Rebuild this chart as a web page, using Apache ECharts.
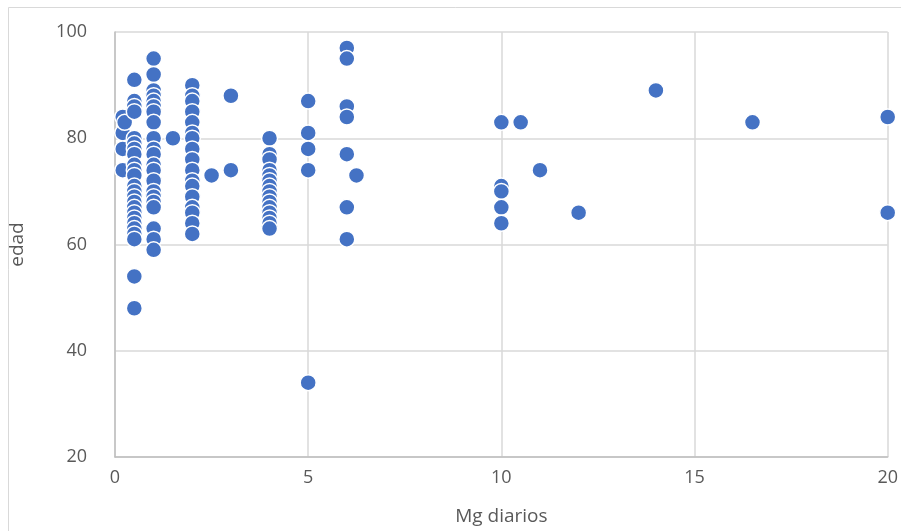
<!DOCTYPE html>
<html>
<head>
<meta charset="utf-8">
<script src="https://cdn.jsdelivr.net/npm/echarts@6/dist/echarts.min.js"></script>
<style>
html,body{margin:0;padding:0;background:#fff;}
#c{width:901px;height:531px;}
</style>
</head>
<body>
<div id="c"></div>
<script>
// Mg diarios (x) and edad (y), grouped by dose
const dose02 = [84, 81, 78, 74];
const dose025 = [83];
const dose05 = [91, 87, 86, 85, 80, 79, 78, 77, 75, 74, 73, 71, 70, 69, 68, 67, 66, 65, 64, 63, 62, 61, 54, 48];
const dose1 = [95, 92, 89, 88, 87, 86, 85, 83, 80, 78, 77, 75, 74, 72, 70, 69, 68, 67, 63, 61, 59];
const dose15 = [80];
const dose2 = [90, 88, 87, 85, 83, 81, 80, 78, 76, 74, 72, 71, 69, 67, 66, 64, 62];
const dose25 = [73];
const dose3 = [88, 74];
const dose4 = [80, 77, 76, 74, 73, 72, 71, 70, 69, 68, 67, 66, 65, 64, 63];
const dose5 = [87, 81, 78, 74, 34];
const dose6 = [97, 95, 86, 84, 77, 67, 61];
const dose625 = [73];
const dose10 = [83, 71, 70, 67, 64];
const dose105 = [83];
const dose11 = [74];
const dose12 = [66];
const dose14 = [89];
const dose165 = [83];
const dose20 = [84, 66];

const doseGroups = [
  [0.2, dose02], [0.25, dose025], [0.5, dose05], [1, dose1], [1.5, dose15],
  [2, dose2], [2.5, dose25], [3, dose3], [4, dose4], [5, dose5], [6, dose6],
  [6.25, dose625], [10, dose10], [10.5, dose105], [11, dose11], [12, dose12],
  [14, dose14], [16.5, dose165], [20, dose20]
];
const xTicks = [0, 5, 10, 15, 20];
const yTicks = [20, 40, 60, 80, 100];

const points = [];
doseGroups.forEach(([x, ys]) => ys.forEach(y => points.push([x, y])));

const font = 'Open Sans, Noto Sans, sans-serif';
const chart = echarts.init(document.getElementById('c'), null, {renderer: 'canvas'});
chart.setOption({
  animation: false,
  backgroundColor: '#ffffff',
  graphic: [{
    type: 'rect', shape: {x: 8.5, y: 7.5, width: 900, height: 530},
    style: {fill: 'none', stroke: '#d9d9d9', lineWidth: 1}, silent: true, z: -1
  }],
  grid: {left: 115, right: 13, top: 32, bottom: 73, containLabel: false},
  xAxis: {
    type: 'value', min: xTicks[0], max: xTicks[xTicks.length - 1], interval: 5,
    name: 'Mg diarios', nameLocation: 'middle', nameGap: 50,
    nameTextStyle: {fontFamily: font, fontSize: 19, color: '#595959'},
    axisLine: {show: true, lineStyle: {color: '#bfbfbf', width: 1.5}},
    axisTick: {show: false},
    axisLabel: {fontFamily: font, fontSize: 18, color: '#595959', margin: 12},
    splitLine: {show: true, lineStyle: {color: '#d9d9d9', width: 1.5}}
  },
  yAxis: {
    type: 'value', min: yTicks[0], max: yTicks[yTicks.length - 1], interval: 20,
    name: 'edad', nameLocation: 'middle', nameGap: 88, nameRotate: 90,
    nameTextStyle: {fontFamily: font, fontSize: 19, color: '#595959'},
    axisLine: {show: true, lineStyle: {color: '#bfbfbf', width: 1.5}},
    axisTick: {show: false},
    axisLabel: {fontFamily: font, fontSize: 18, color: '#595959', margin: 28},
    splitLine: {show: true, lineStyle: {color: '#d9d9d9', width: 1.5}}
  },
  series: [{
    type: 'scatter',
    data: points,
    symbol: 'circle',
    symbolSize: 16,
    itemStyle: {color: '#4472c4', borderColor: '#ffffff', borderWidth: 1.5, opacity: 1}
  }]
});
</script>
</body>
</html>
